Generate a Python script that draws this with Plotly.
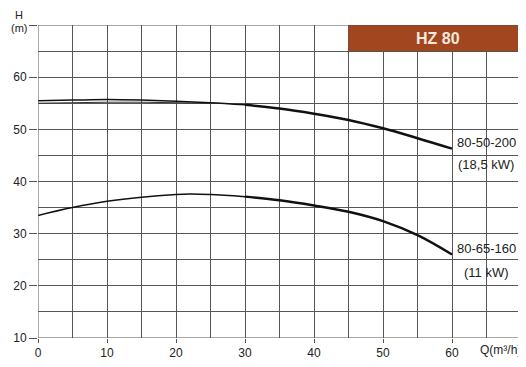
import plotly.graph_objects as go

# Data
q_200 = [0, 5, 10, 15, 20, 25, 30]
h_200_thin = [55.5, 55.6, 55.7, 55.6, 55.4, 55.1, 54.7]
q_200b = [30, 35, 40, 45, 50, 55, 60]
h_200b = [54.7, 54.0, 53.0, 51.8, 50.2, 48.3, 46.3]
q_200alt = [0, 5, 10, 15, 20, 25]
h_200alt = [55.0, 55.1, 55.2, 55.2, 55.1, 55.0]

q_160 = [0, 5, 10, 15, 20, 22, 25, 30]
h_160 = [33.5, 35.0, 36.2, 37.0, 37.5, 37.6, 37.5, 37.1]
q_160b = [30, 35, 40, 45, 50, 55, 60]
h_160b = [37.1, 36.4, 35.4, 34.2, 32.4, 29.7, 26.0]

x_ticks = [0, 10, 20, 30, 40, 50, 60]
y_ticks = [10, 20, 30, 40, 50, 60, 70]
y_ticktext = ["10", "20", "30", "40", "50", "60", ""]

FONT = "Liberation Sans, Arial, sans-serif"
GRID = "#555555"

fig = go.Figure()
fig.add_trace(go.Scatter(x=q_200alt, y=h_200alt, mode="lines", line=dict(color="#333", width=1, shape="spline")))
fig.add_trace(go.Scatter(x=q_200, y=h_200_thin, mode="lines", line=dict(color="#111", width=1.5, shape="spline")))
fig.add_trace(go.Scatter(x=q_200b, y=h_200b, mode="lines", line=dict(color="#111", width=2.5, shape="spline")))
fig.add_trace(go.Scatter(x=q_160, y=h_160, mode="lines", line=dict(color="#111", width=1.5, shape="spline")))
fig.add_trace(go.Scatter(x=q_160b, y=h_160b, mode="lines", line=dict(color="#111", width=2.5, shape="spline")))

fig.update_layout(
    width=518, height=359,
    margin=dict(l=30, r=5, t=17, b=29),
    paper_bgcolor="white", plot_bgcolor="white",
    showlegend=False,
    font=dict(family=FONT, size=12, color="#222"),
    xaxis=dict(range=[0, 70], tickvals=x_ticks, showgrid=False, zeroline=False,
               ticks="outside", ticklen=4, tickcolor=GRID, showline=False,
               tickfont=dict(size=12), automargin=False,
               minor=dict(dtick=5, tick0=0, showgrid=True, gridcolor=GRID, gridwidth=1)),
    yaxis=dict(range=[10, 70], tickvals=y_ticks, ticktext=y_ticktext, showgrid=False, zeroline=False,
               ticks="outside", ticklen=8, tickcolor=GRID, showline=False,
               tickfont=dict(size=12), automargin=False,
               minor=dict(dtick=5, tick0=10, showgrid=True, gridcolor=GRID, gridwidth=1)),
    shapes=[
        dict(type="rect", xref="x", yref="y", x0=45, x1=70, y0=65, y1=70,
             fillcolor="#a2461f", line=dict(width=0), layer="above"),
        dict(type="rect", xref="x", yref="y", x0=0, x1=70, y0=10, y1=70,
             fillcolor="rgba(0,0,0,0)", line=dict(color=GRID, width=1)),
    ],
    annotations=[
        dict(x=58, y=67.5, xref="x", yref="y", text="<b>HZ 80</b>", showarrow=False,
             font=dict(size=16, color="#f5e8dc")),
        dict(x=60.5, y=47.4, xref="x", yref="y", text="80-50-200", showarrow=False,
             xanchor="left", font=dict(size=13)),
        dict(x=60.6, y=43.2, xref="x", yref="y", text="(18,5 kW)", showarrow=False,
             xanchor="left", font=dict(size=13)),
        dict(x=60.5, y=27.25, xref="x", yref="y", text="80-65-160", showarrow=False,
             xanchor="left", font=dict(size=13)),
        dict(x=61.5, y=22.65, xref="x", yref="y", text="(11 kW)", showarrow=False,
             xanchor="left", font=dict(size=13)),
        dict(x=1, y=0, xref="paper", yref="paper", text="Q(m³/h)", showarrow=False,
             xanchor="right", yanchor="top", yshift=-3, xshift=2, font=dict(size=12)),
        dict(x=0, y=1, xref="paper", yref="paper", text="H", showarrow=False,
             xanchor="center", yanchor="top", xshift=-19, yshift=17, borderpad=0,
             font=dict(size=11)),
        dict(x=0, y=1, xref="paper", yref="paper", text="(m)", showarrow=False,
             xanchor="center", yanchor="top", xshift=-19, yshift=4, borderpad=0,
             font=dict(size=11)),
    ],
)

fig.write_html("out.html")
